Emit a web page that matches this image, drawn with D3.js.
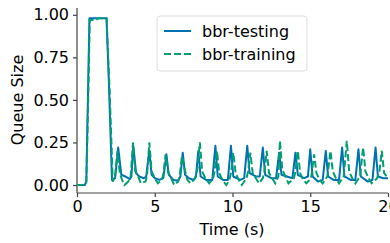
<!DOCTYPE html>
<html>
<head>
<meta charset="utf-8">
<script src="https://cdn.jsdelivr.net/npm/d3@7"></script>
<style>
  body { margin: 0; background: #fff; }
  svg { display: block; font-family: "DejaVu Sans", sans-serif; }
</style>
</head>
<body>
<svg width="390" height="243"></svg>
<script>
// [time (s), queue size]
var testing = [[0,0],[0.5,0.0],[0.6,0.02],[0.7,0.5],[0.8,0.98],[1.9,0.98],[2.05,0.6],[2.25,0.03],[2.45,0.04],[2.65,0.22],[2.85,0.06],[3.1,0.05],[3.4,0.035],[3.5,0.05],[3.62,0.23],[3.8,0.07],[4.0,0.05],[4.3,0.04],[4.45,0.05],[4.65,0.2],[4.8,0.06],[5.0,0.04],[5.3,0.03],[5.55,0.04],[5.75,0.18],[5.9,0.06],[6.2,0.03],[6.5,0.025],[6.65,0.05],[6.8,0.19],[6.95,0.06],[7.2,0.04],[7.5,0.03],[7.65,0.05],[7.8,0.2],[7.95,0.05],[8.3,0.03],[8.7,0.03],[8.9,0.23],[9.05,0.05],[9.4,0.03],[9.7,0.03],[9.9,0.23],[10.05,0.05],[10.5,0.03],[10.75,0.04],[10.95,0.23],[11.1,0.07],[11.5,0.05],[11.75,0.05],[11.95,0.22],[12.1,0.06],[12.5,0.04],[12.8,0.04],[13.0,0.19],[13.15,0.06],[13.5,0.05],[13.85,0.04],[14.05,0.19],[14.2,0.06],[14.6,0.04],[14.85,0.05],[15.0,0.21],[15.15,0.05],[15.5,0.02],[15.8,0.03],[16.0,0.2],[16.15,0.05],[16.5,0.03],[16.85,0.03],[17.05,0.22],[17.2,0.05],[17.6,0.03],[17.9,0.03],[18.1,0.21],[18.25,0.05],[18.7,0.02],[19.0,0.03],[19.2,0.22],[19.35,0.05],[19.7,0.04],[20.0,0.04]]

var training = [[0,0],[0.5,0.0],[0.6,0.02],[0.72,0.5],[0.82,0.97],[1.2,0.97],[1.4,0.98],[1.9,0.98],[2.1,0.55],[2.3,0.02],[2.45,0.05],[2.6,0.2],[2.75,0.07],[2.9,0.03],[3.05,0.0],[3.3,0.02],[3.45,0.05],[3.6,0.25],[3.75,0.08],[3.9,0.06],[4.1,0.01],[4.4,0.02],[4.5,0.05],[4.65,0.25],[4.8,0.08],[5.0,0.04],[5.2,0.01],[5.45,0.03],[5.55,0.06],[5.7,0.18],[5.85,0.08],[6.0,0.05],[6.25,0.0],[6.5,0.02],[6.6,0.05],[6.75,0.17],[6.9,0.1],[7.1,0.03],[7.3,0.01],[7.6,0.04],[7.75,0.1],[7.9,0.25],[8.05,0.08],[8.25,0.04],[8.5,0.01],[8.75,0.04],[8.85,0.08],[9.0,0.2],[9.15,0.07],[9.35,0.03],[9.6,0.0],[9.8,0.03],[9.9,0.07],[10.05,0.19],[10.2,0.07],[10.4,0.03],[10.6,0.0],[10.9,0.04],[11.0,0.08],[11.15,0.19],[11.3,0.07],[11.5,0.04],[11.7,0.01],[11.95,0.04],[12.05,0.08],[12.2,0.2],[12.35,0.07],[12.55,0.04],[12.75,0.01],[12.95,0.05],[13.05,0.26],[13.2,0.09],[13.4,0.05],[13.6,0.01],[13.95,0.04],[14.05,0.08],[14.2,0.2],[14.35,0.07],[14.55,0.03],[14.75,0.01],[15.05,0.04],[15.1,0.07],[15.25,0.18],[15.4,0.07],[15.6,0.03],[15.8,0.01],[16.1,0.05],[16.3,0.2],[16.45,0.08],[16.65,0.04],[16.85,0.01],[17.15,0.05],[17.35,0.26],[17.5,0.08],[17.7,0.04],[17.9,0.01],[18.2,0.05],[18.4,0.22],[18.55,0.08],[18.75,0.04],[18.95,0.01],[19.3,0.04],[19.45,0.08],[19.6,0.2],[19.75,0.07],[20.0,0.04]]

var seriesNames = ["bbr-testing", "bbr-training"]
var colors = ["#0072B2", "#009E73"]
var xTicks = [0, 5, 10, 15, 20]
var yTicks = [0, 0.25, 0.5, 0.75, 1.0]

var svg = d3.select("svg")
var plotLeft = 77, plotRight = 388, plotTop = 8, plotBottom = 193
var fontSize = 16

var x = d3.scaleLinear().domain([0, 20]).range([plotLeft, plotRight])
var y = d3.scaleLinear().domain([-0.047, 1.04]).range([plotBottom, plotTop])

var line = d3.line()
	.x(function (d) { return x(d[0]); })
	.y(function (d) { return y(d[1]); })

// axes
var xAxis = svg.append("g")
	.attr("transform", "translate(0," + plotBottom + ")")
	.call(d3.axisBottom(x).tickValues(xTicks).tickSize(4).tickPadding(4).tickFormat(d3.format("d")))
var yAxis = svg.append("g")
	.attr("transform", "translate(" + plotLeft + ",0)")
	.call(d3.axisLeft(y).tickValues(yTicks).tickSize(4).tickPadding(4).tickFormat(d3.format(".2f")))

;[xAxis, yAxis].forEach(function (a) {
	a.select(".domain").attr("stroke", "#444").attr("stroke-width", 1.2)
	a.selectAll(".tick line").attr("stroke", "#444").attr("stroke-width", 1.2)
	a.selectAll(".tick text").attr("fill", "#000").attr("font-size", fontSize)
		.attr("font-family", "DejaVu Sans")
})
xAxis.select(".domain").attr("d", "M" + plotLeft + ",0H" + plotRight)
yAxis.select(".domain").attr("d", "M0," + plotTop + "V" + plotBottom)

svg.append("text")
	.attr("x", 232)
	.attr("y", 235)
	.attr("text-anchor", "middle")
	.attr("font-size", fontSize)
	.text("Time (s)")

svg.append("text")
	.attr("transform", "translate(23,100) rotate(-90)")
	.attr("text-anchor", "middle")
	.attr("font-size", fontSize)
	.text("Queue Size")

// lines
svg.append("path")
	.datum(testing)
	.attr("fill", "none")
	.attr("stroke", colors[0])
	.attr("stroke-width", 2)
	.attr("stroke-linejoin", "round")
	.attr("d", line)

svg.append("path")
	.datum(training)
	.attr("fill", "none")
	.attr("stroke", colors[1])
	.attr("stroke-width", 2)
	.attr("stroke-dasharray", "7,3")
	.attr("d", line)

// legend
var legend = svg.append("g")
legend.append("rect")
	.attr("x", 157).attr("y", 16)
	.attr("width", 150).attr("height", 55)
	.attr("rx", 3)
	.attr("fill", "#fff").attr("fill-opacity", 0.8)
	.attr("stroke", "#ddd")

seriesNames.forEach(function (name, i) {
	var ly = 31 + i * 23
	legend.append("line")
		.attr("x1", 164).attr("x2", 191)
		.attr("y1", ly).attr("y2", ly)
		.attr("stroke", colors[i])
		.attr("stroke-width", 2)
		.attr("stroke-dasharray", i == 1 ? "7,3" : null)
	legend.append("text")
		.attr("x", 202).attr("y", ly + 6)
		.attr("font-size", fontSize)
		.text(name)
})
</script>
</body>
</html>
